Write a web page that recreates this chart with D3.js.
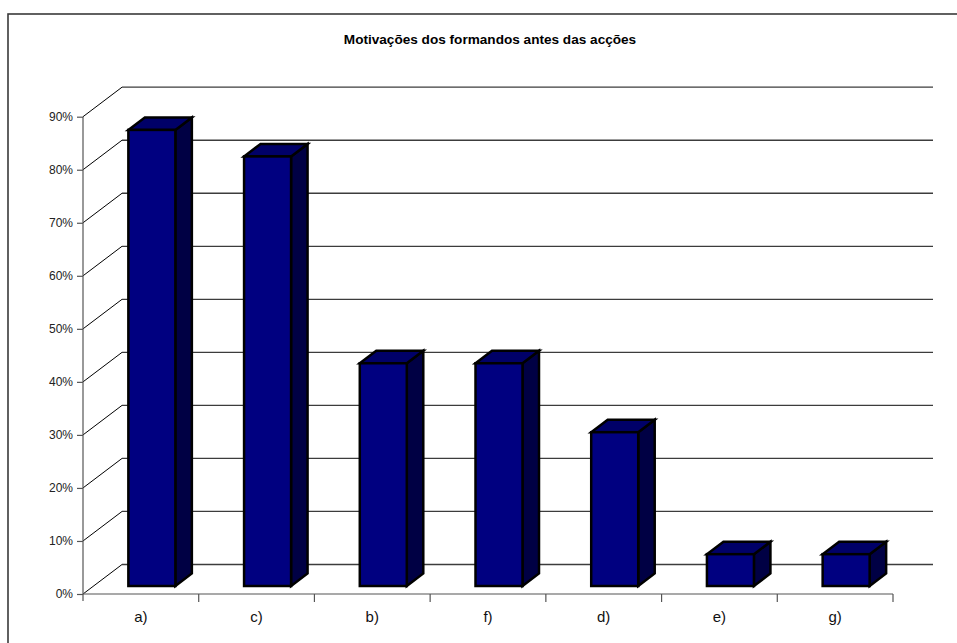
<!DOCTYPE html>
<html>
<head>
<meta charset="utf-8">
<script src="https://cdn.jsdelivr.net/npm/d3@7/dist/d3.min.js"></script>
<style>
  html, body { margin: 0; padding: 0; background: #fff; }
  svg { display: block; font-family: "Liberation Sans", Arial, sans-serif; }
</style>
</head>
<body>
<svg id="chart" width="957" height="643"></svg>
<script>
// Motivations of trainees before the training actions
const categories = ["a)", "c)", "b)", "f)", "d)", "e)", "g)"];
const values = [0.86, 0.81, 0.42, 0.42, 0.29, 0.06, 0.06];
const yTicks = [0, 0.1, 0.2, 0.3, 0.4, 0.5, 0.6, 0.7, 0.8, 0.9];
const title = "Motivações dos formandos antes das acções";

const svg = d3.select("#chart");

// plot frame of the front plane
const plotLeft = 83, plotRight = 893, plotBottom = 594, plotTop = 116.7;
// oblique depth of the chart box
const depthX = 39, depthY = -29.5;
const wallRight = 933;

const x = d3.scaleBand().domain(categories).range([plotLeft, plotRight]);
const y = d3.scaleLinear().domain([0, 0.9]).range([plotBottom, plotTop]);

// outer chart area border
svg.append("rect")
  .attr("x", 8).attr("y", 14)
  .attr("width", 1000).attr("height", 700)
  .attr("fill", "#fff")
  .attr("stroke", "#3a3a3a")
  .attr("stroke-width", 1.6);

// title
svg.append("text")
  .attr("x", 490).attr("y", 44)
  .attr("text-anchor", "middle")
  .attr("font-size", 13.6).attr("font-weight", "bold")
  .attr("fill", "#000")
  .text(title);

// floor diagonals + back wall gridlines
const grid = svg.append("g");
yTicks.forEach(t => {
  const yy = y(t);
  grid.append("line")
    .attr("x1", plotLeft).attr("y1", yy)
    .attr("x2", plotLeft + depthX).attr("y2", yy + depthY)
    .attr("stroke", "#000").attr("stroke-width", 1);
  grid.append("line")
    .attr("x1", plotLeft + depthX).attr("y1", yy + depthY)
    .attr("x2", wallRight).attr("y2", yy + depthY)
    .attr("stroke", "#3c3c3c").attr("stroke-width", 1.3);
});

// y axis
const yAxis = svg.append("g")
  .attr("transform", `translate(${plotLeft},0)`)
  .call(d3.axisLeft(y).tickValues(yTicks).tickFormat(d3.format(".0%")).tickSize(6).tickPadding(4));
yAxis.select(".domain").remove();
yAxis.selectAll(".tick line").attr("stroke", "#555").attr("stroke-width", 1.2);
yAxis.selectAll(".tick text")
  .attr("font-family", "Liberation Sans, Arial, sans-serif")
  .attr("font-size", 12).attr("fill", "#222");
svg.append("line")
  .attr("x1", plotLeft).attr("y1", plotTop).attr("x2", plotLeft).attr("y2", plotBottom + 7)
  .attr("stroke", "#555").attr("stroke-width", 1.2);

// x axis
svg.append("line")
  .attr("x1", plotLeft).attr("y1", plotBottom).attr("x2", plotRight).attr("y2", plotBottom)
  .attr("stroke", "#555").attr("stroke-width", 1.2);
categories.forEach(c => {
  const xe = x(c) + x.bandwidth();
  svg.append("line")
    .attr("x1", xe).attr("y1", plotBottom).attr("x2", xe).attr("y2", plotBottom + 8)
    .attr("stroke", "#555").attr("stroke-width", 1.2);
  svg.append("text")
    .attr("x", x(c) + x.bandwidth() / 2).attr("y", 622)
    .attr("text-anchor", "middle")
    .attr("font-size", 15).attr("fill", "#111")
    .text(c);
});

// 3D bars
const barW = 47;
const fdx = 11, fdy = -8;          // bar front face offset into depth
const bdx = 16.5, bdy = -12.5;     // bar depth
const bars = svg.append("g")
  .attr("stroke", "#000").attr("stroke-width", 2.5).attr("stroke-linejoin", "miter");

categories.forEach((c, i) => {
  const v = values[i];
  const x0 = x(c) + (x.bandwidth() - barW) / 2 + fdx;
  const x1 = x0 + barW;
  const y0 = y(0) + fdy;
  const y1 = y(v) + fdy;
  // side face
  bars.append("path")
    .attr("d", `M${x1},${y0} L${x1 + bdx},${y0 + bdy} L${x1 + bdx},${y1 + bdy} L${x1},${y1} Z`)
    .attr("fill", "#000044");
  // top face
  bars.append("path")
    .attr("d", `M${x0},${y1} L${x0 + bdx},${y1 + bdy} L${x1 + bdx},${y1 + bdy} L${x1},${y1} Z`)
    .attr("fill", "#000068");
  // front face
  bars.append("rect")
    .attr("x", x0).attr("y", y1)
    .attr("width", barW).attr("height", y0 - y1)
    .attr("fill", "#000080");
});
</script>
</body>
</html>
